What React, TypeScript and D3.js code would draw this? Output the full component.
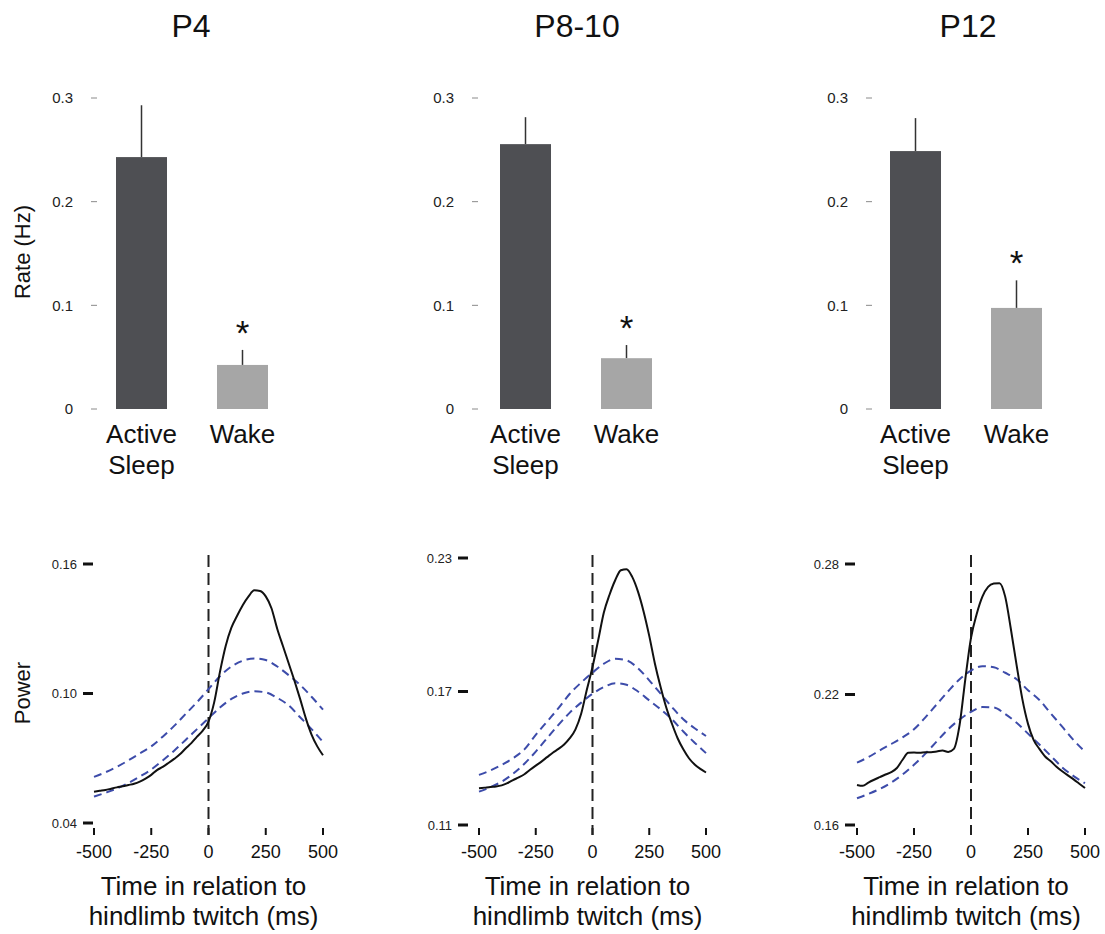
import React from "react";
import * as d3 from "d3";

// ---- Data ----
const AGES = ["P4", "P8-10", "P12"];
const STATES = ["Active Sleep", "Wake"];

// Twitch rate (Hz): mean and SEM for Active Sleep / Wake
const RATE_P4 = [0.243, 0.0425];
const RATE_P8 = [0.2555, 0.049];
const RATE_P12 = [0.2488, 0.0975];
const SEM_P4 = [0.05, 0.0145];
const SEM_P8 = [0.026, 0.0127];
const SEM_P12 = [0.0318, 0.0266];
const RATE_TICKS = [0, 0.1, 0.2, 0.3];

// Time axis (ms relative to twitch)
const TIME_TICKS = [-500, -250, 0, 250, 500];
const T_FINE = d3.range(-500, 501, 25);
const T_COARSE = d3.range(-500, 501, 50);

// Power traces (observed, 25 ms steps)
const POWER_P4 = [
  0.0545, 0.0549, 0.0553, 0.0559, 0.0565, 0.057, 0.0576, 0.0582, 0.0592, 0.0606,
  0.0623, 0.0645, 0.066, 0.0678, 0.0697, 0.0718, 0.0745, 0.077, 0.08, 0.0828,
  0.087, 0.096, 0.11, 0.122, 0.1305, 0.136, 0.141, 0.145, 0.1478, 0.1475,
  0.145, 0.1395, 0.13, 0.122, 0.114, 0.106, 0.0975, 0.0885, 0.081, 0.0755, 0.0714,
];
const POWER_P8 = [
  0.1265, 0.1268, 0.1271, 0.1273, 0.1278, 0.1288, 0.1302, 0.1314, 0.1328, 0.1348,
  0.1367, 0.1385, 0.1405, 0.1425, 0.1442, 0.1462, 0.149, 0.153, 0.16, 0.1708,
  0.181, 0.193, 0.2055, 0.2135, 0.22, 0.2245, 0.225, 0.2215, 0.215, 0.206,
  0.195, 0.1825, 0.172, 0.1628, 0.1555, 0.149, 0.144, 0.14, 0.1372, 0.1352, 0.1336,
];
const POWER_P12 = [
  0.1784, 0.178, 0.1795, 0.1808, 0.182, 0.1832, 0.1843, 0.1862, 0.19, 0.1932,
  0.1933, 0.1932, 0.1935, 0.1935, 0.1938, 0.1942, 0.1936, 0.195, 0.206, 0.227,
  0.246, 0.257, 0.265, 0.2695, 0.271, 0.2712, 0.265, 0.25, 0.2335, 0.218,
  0.2065, 0.199, 0.195, 0.1915, 0.1893, 0.1868, 0.1847, 0.1828, 0.181, 0.179, 0.177,
];

// Shuffled confidence bounds (50 ms steps)
const UPPER_P4 = [
  0.0614, 0.0635, 0.066, 0.069, 0.0722, 0.0755, 0.08, 0.085, 0.0905, 0.096, 0.102,
  0.108, 0.1125, 0.1152, 0.1162, 0.1155, 0.1125, 0.1085, 0.104, 0.0985, 0.0925,
];
const LOWER_P4 = [
  0.0522, 0.054, 0.056, 0.0585, 0.0615, 0.0648, 0.069, 0.0735, 0.0785, 0.0835, 0.0885,
  0.0935, 0.0975, 0.1, 0.101, 0.1005, 0.098, 0.0945, 0.089, 0.0835, 0.0775,
];
const UPPER_P8 = [
  0.1325, 0.1345, 0.137, 0.14, 0.144, 0.1505, 0.1565, 0.1625, 0.169, 0.174, 0.1785,
  0.1825, 0.1847, 0.184, 0.1805, 0.175, 0.169, 0.163, 0.1575, 0.1535, 0.15,
];
const LOWER_P8 = [
  0.125, 0.127, 0.1295, 0.133, 0.1375, 0.143, 0.149, 0.155, 0.1605, 0.165, 0.169,
  0.172, 0.1737, 0.173, 0.17, 0.166, 0.162, 0.1575, 0.152, 0.147, 0.1423,
];
const UPPER_P12 = [
  0.1887, 0.1912, 0.1943, 0.1972, 0.2003, 0.204, 0.2095, 0.2155, 0.2215, 0.227, 0.231,
  0.233, 0.2325, 0.23, 0.227, 0.222, 0.2175, 0.2113, 0.2052, 0.199, 0.1937,
];
const LOWER_P12 = [
  0.1723, 0.1743, 0.1766, 0.1795, 0.1832, 0.1877, 0.1928, 0.1985, 0.204, 0.2085, 0.212,
  0.2142, 0.214, 0.211, 0.207, 0.202, 0.197, 0.1918, 0.1865, 0.1825, 0.1792,
];

const POWER_TICKS_P4 = [0.04, 0.1, 0.16];
const POWER_TICKS_P8 = [0.11, 0.17, 0.23];
const POWER_TICKS_P12 = [0.16, 0.22, 0.28];

// ---- Layout ----
const FONT = "'Liberation Sans', Arial, Helvetica, sans-serif";
const DARK = "#4e4f53";
const LIGHT = "#a6a6a6";
const BLUE = "#3d4caa";

const panels = [
  {
    title: AGES[0], titleX: 191,
    rate: RATE_P4, sem: SEM_P4, bandRange: [116, 268], rateTickX: 97,
    power: POWER_P4, upper: UPPER_P4, lower: LOWER_P4, powerTicks: POWER_TICKS_P4,
    xRange: [94, 323], yRange: [823, 564], yTickRight: 93,
  },
  {
    title: AGES[1], titleX: 577,
    rate: RATE_P8, sem: SEM_P8, bandRange: [500, 652], rateTickX: 478,
    power: POWER_P8, upper: UPPER_P8, lower: LOWER_P8, powerTicks: POWER_TICKS_P8,
    xRange: [479, 706], yRange: [825, 558], yTickRight: 468,
  },
  {
    title: AGES[2], titleX: 968,
    rate: RATE_P12, sem: SEM_P12, bandRange: [890, 1042], rateTickX: 872,
    power: POWER_P12, upper: UPPER_P12, lower: LOWER_P12, powerTicks: POWER_TICKS_P12,
    xRange: [857, 1085], yRange: [825, 564], yTickRight: 855,
  },
];

const rateY = d3.scaleLinear().domain([0, 0.3]).range([409, 98]);

function RatePanel({ p }: { p: (typeof panels)[number] }) {
  const x = d3.scaleBand<string>().domain(STATES).range(p.bandRange as [number, number]).paddingInner(0.495);
  const bw = x.bandwidth();
  return (
    <g>
      {RATE_TICKS.map((t) => (
        <g key={t}>
          <line x1={p.rateTickX - 6} x2={p.rateTickX} y1={rateY(t)} y2={rateY(t)} stroke="#8a8a8a" strokeWidth={1} />
          <text x={p.rateTickX - 24} y={rateY(t)} dy="0.35em" textAnchor="end" fontSize={15} fill="#222">
            {d3.format("")(t)}
          </text>
        </g>
      ))}
      {STATES.map((s, i) => {
        const x0 = x(s)!;
        const cx = x0 + bw / 2;
        const top = rateY(p.rate[i]);
        const errTop = rateY(p.rate[i] + p.sem[i]);
        return (
          <g key={s}>
            <line x1={cx} x2={cx} y1={top} y2={errTop} stroke="#333" strokeWidth={1.5} />
            <rect x={x0} y={top} width={bw} height={rateY(0) - top} fill={i === 0 ? DARK : LIGHT} />
            {i === 1 && (
              <text x={cx} y={errTop - 25 + 20} textAnchor="middle" fontSize={35} fill="#111">*</text>
            )}
          </g>
        );
      })}
      <text x={x("Active Sleep")! + bw / 2} y={443} textAnchor="middle" fontSize={26} fill="#111">Active</text>
      <text x={x("Active Sleep")! + bw / 2} y={474} textAnchor="middle" fontSize={26} fill="#111">Sleep</text>
      <text x={x("Wake")! + bw / 2} y={443} textAnchor="middle" fontSize={26} fill="#111">Wake</text>
    </g>
  );
}

function PowerPanel({ p }: { p: (typeof panels)[number] }) {
  const pt = p.powerTicks;
  const x = d3.scaleLinear().domain([-500, 500]).range(p.xRange as [number, number]);
  const y = d3.scaleLinear().domain([pt[0], pt[pt.length - 1]]).range(p.yRange as [number, number]);
  const fine = d3.line<number>().x((_, i) => x(T_FINE[i])).y((d) => y(d)).curve(d3.curveMonotoneX);
  const coarse = d3.line<number>().x((_, i) => x(T_COARSE[i])).y((d) => y(d)).curve(d3.curveMonotoneX);
  const cx = (p.xRange[0] + p.xRange[1]) / 2 - 5;
  return (
    <g>
      {pt.map((t) => (
        <g key={t}>
          <line x1={p.yTickRight - 10} x2={p.yTickRight} y1={y(t)} y2={y(t)} stroke="#111" strokeWidth={3} />
          <text x={p.yTickRight - 16} y={y(t)} dy="0.35em" textAnchor="end" fontSize={13} fill="#222">
            {d3.format(".2f")(t)}
          </text>
        </g>
      ))}
      {TIME_TICKS.map((t) => (
        <g key={t}>
          <line x1={x(t)} x2={x(t)} y1={828} y2={835} stroke="#111" strokeWidth={2} />
          <text x={x(t)} y={858} textAnchor="middle" fontSize={18} fill="#111">{t}</text>
        </g>
      ))}
      <line x1={x(0)} x2={x(0)} y1={555} y2={835} stroke="#222" strokeWidth={2} strokeDasharray="12,6" />
      <path d={coarse(p.upper)!} fill="none" stroke={BLUE} strokeWidth={2} strokeDasharray="8,5" />
      <path d={coarse(p.lower)!} fill="none" stroke={BLUE} strokeWidth={2} strokeDasharray="8,5" />
      <path d={fine(p.power)!} fill="none" stroke="#111" strokeWidth={2} />
      <text x={cx} y={895} textAnchor="middle" fontSize={26} fill="#111">Time in relation to</text>
      <text x={cx} y={925} textAnchor="middle" fontSize={26} fill="#111">hindlimb twitch (ms)</text>
    </g>
  );
}

export default function App() {
  return (
    <svg
      width={1105}
      height={934}
      style={{ position: "absolute", left: 0, top: 0, background: "#fff" }}
      fontFamily={FONT}
    >
      {panels.map((p) => (
        <g key={p.title}>
          <text x={p.titleX} y={37} textAnchor="middle" fontSize={32} fill="#111">{p.title}</text>
          <RatePanel p={p} />
          <PowerPanel p={p} />
        </g>
      ))}
      <text transform="translate(30,252) rotate(-90)" textAnchor="middle" fontSize={22} fill="#111">Rate (Hz)</text>
      <text transform="translate(30,693) rotate(-90)" textAnchor="middle" fontSize={22} fill="#111">Power</text>
    </svg>
  );
}
